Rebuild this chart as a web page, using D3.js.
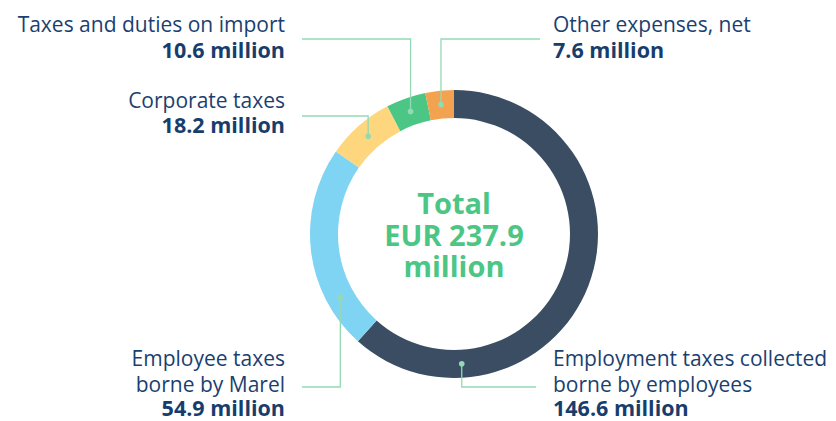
<!DOCTYPE html>
<html><head><meta charset="utf-8">
<script src="https://cdn.jsdelivr.net/npm/d3@7"></script>
<style>
html,body{margin:0;padding:0;background:#fff;}
svg{display:block;font-family:"Open Sans",sans-serif;}
</style></head><body>
<svg id="chart" width="836" height="421"></svg>
<script>
const categories = ["Employment taxes collected borne by employees","Employee taxes borne by Marel","Corporate taxes","Taxes and duties on import","Other expenses, net"];
const values = [146.6, 54.9, 18.2, 10.6, 7.6];
const colors = ["#3a4d63","#7fd4f3","#fdd67d","#4cc685","#f3a34f"];
const labelLines = [["Employment taxes collected","borne by employees"],["Employee taxes","borne by Marel"],["Corporate taxes"],["Taxes and duties on import"],["Other expenses, net"]];
const valueLabels = ["146.6 million","54.9 million","18.2 million","10.6 million","7.6 million"];
const totalLines = ["Total","EUR 237.9","million"];

const svg = d3.select("#chart");
const cx = 454, cy = 234, rOuter = 144, rInner = 116, rMid = 130;
const g = svg.append("g").attr("transform", `translate(${cx},${cy})`);
const pie = d3.pie().sort(null).value(d => d)(values);
const arc = d3.arc().innerRadius(rInner).outerRadius(rOuter);
g.selectAll("path.slice").data(pie).join("path").attr("class","slice")
  .attr("d", arc).attr("fill", (d,i) => colors[i]);

// leader layouts: fraction of slice where the dot sits, elbow y, end x, label side
const layout = [
  {frac:0.796, elbowY:387, endX:536, side:"right", tx:553, baselines:[366,392,416]},
  {frac:0.23, elbowY:387, endX:302, side:"left", tx:285, baselines:[366,392,416]},
  {frac:0.5, elbowY:116, endX:302, side:"left", tx:285, baselines:[108,133]},
  {frac:0.5, elbowY:39, endX:302, side:"left", tx:285, baselines:[32,58]},
  {frac:0.5, elbowY:39, endX:540, side:"right", tx:553, baselines:[32,58]}
];
const lineColor = "#93dab4";
pie.forEach((d,i) => {
  const L = layout[i];
  const a = d.startAngle + (d.endAngle - d.startAngle) * L.frac;
  const x = cx + rMid * Math.sin(a), y = cy - rMid * Math.cos(a);
  svg.append("path").attr("d", `M${x},${y}V${L.elbowY}H${L.endX}`)
    .attr("fill","none").attr("stroke", lineColor).attr("stroke-width",1.3);
  svg.append("circle").attr("cx",x).attr("cy",y).attr("r",2.8).attr("fill", lineColor);
  const anchor = L.side==="left" ? "end" : "start";
  const lines = labelLines[i];
  lines.forEach((t,j) => {
    svg.append("text").attr("x",L.tx).attr("y",L.baselines[j]).attr("text-anchor",anchor)
      .attr("font-size",21).attr("fill","#1b3f6f").text(t);
  });
  svg.append("text").attr("x",L.tx).attr("y",L.baselines[lines.length]).attr("text-anchor",anchor)
    .attr("font-size",21.5).attr("font-weight","bold").attr("fill","#173d6d").text(valueLabels[i]);
});

const tb = [214,246,277];
totalLines.forEach((t,j) => {
  svg.append("text").attr("x",cx).attr("y",tb[j]).attr("text-anchor","middle")
    .attr("font-size",29).attr("font-weight","bold").attr("fill","#4cc685").text(t);
});
</script></body></html>
